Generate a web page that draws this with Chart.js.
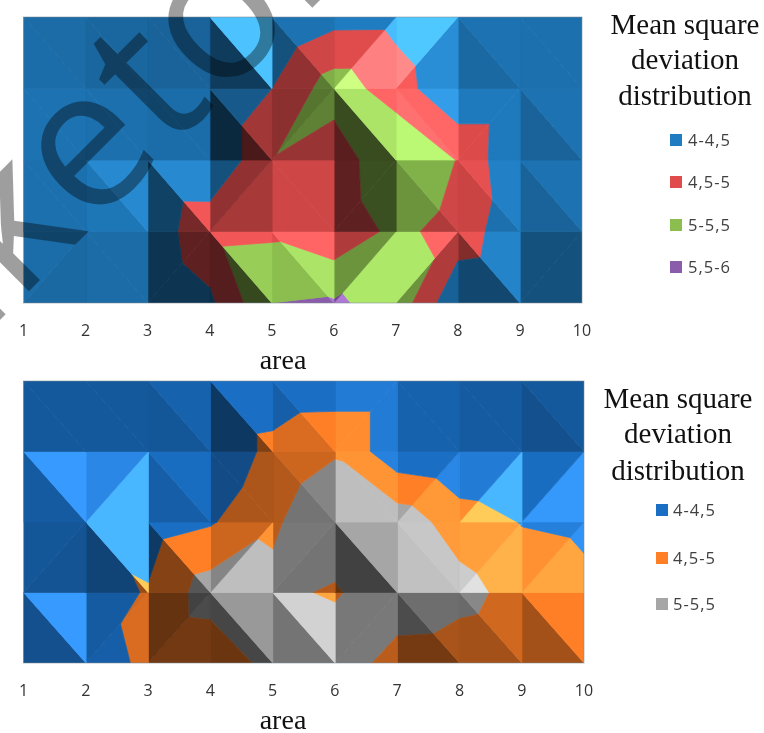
<!DOCTYPE html>
<html><head><meta charset="utf-8">
<style>
html,body{margin:0;padding:0;background:#fff;width:764px;height:733px;overflow:hidden}
canvas{position:absolute;left:0}
.t{position:absolute;font-family:"Liberation Serif",serif;color:#111;white-space:pre;transform:translate(-50%,-50%);line-height:1}
.l{position:absolute;font-family:"Open Sans",sans-serif;font-size:16.5px;letter-spacing:1px;color:#404040;white-space:pre;transform:translateY(-50%);line-height:1}
.s{position:absolute;width:12px;height:12px;transform:translateY(-50%)}
</style>
<script src="https://cdn.jsdelivr.net/npm/chart.js@4"></script>
</head><body>
<canvas id="c1" width="764" height="372" style="top:0"></canvas>
<canvas id="c2" width="764" height="361" style="top:372px"></canvas>
<script>
const areas=[1,2,3,4,5,6,7,8,9,10];
const titleLines=["Mean square","deviation","distribution"];
const axisName="area";

// surface heights, top row of the plot first
const topZ0=[3.95,3.95,3.95,3.9,3.97,4.33,4.34,3.94,3.95,3.95];
const topZ1=[4.0,4.0,4.0,3.99,4.5,5.26,4.76,4.03,4.03,3.9];
const topZ2=[4.0,4.0,4.0,3.99,4.98,4.67,5.48,4.98,4.0,4.0];
const topZ3=[4.0,4.0,4.15,4.87,4.91,4.63,5.13,4.8,4.12,3.95];
const topZ4=[4.0,4.0,4.03,4.4,5.5,5.56,5.34,4.07,3.98,3.9];
const botZ0=[4.0,4.0,4.0,4.06,4.14,4.16,4.16,4.0,3.95,3.9];
const botZ1=[4.0,4.05,4.1,4.06,4.65,4.95,4.16,4.01,3.92,4.0];
const botZ2=[4.1,4.39,4.26,4.45,4.92,5.42,5.31,4.75,4.48,4.42];
const botZ3=[4.0,4.24,4.54,5.26,5.13,4.93,5.48,5.2,4.78,4.6];
const botZ4=[3.9,4.45,4.52,4.59,5.2,5.45,4.7,4.66,4.55,4.7];

const topLabels=["4-4,5","4,5-5","5-5,5","5,5-6"];
const topBreaks=[4,4.5,5,5.5,6];
const topColors=[[31,124,192],[224,76,76],[139,190,78],[138,92,171]];
const botLabels=["4-4,5","4,5-5","5-5,5"];
const botBreaks=[3.5,4.5,5,6];
const botColors=[[26,111,196],[255,127,39],[166,166,166]];

// facet split of each cell: b = \  f = /
const topDiag=["bbbbbffbb","bbbbfbbfb","bbbfbfbbb","fbfbbffbf"];
const botDiag=["bbbbbfbbb","bfbbbbfff","fbbffbbff","bffbbfbbb"];
// facet lighting: A = upper facet, B = lower facet
const topShadeA=[[.87,.83,.8,1.28,.92,1,1.3,.92,.9],[.92,.9,.88,.72,.62,1.12,1.13,.98,.92],[.9,1.05,1.05,.65,.92,.42,.93,1.02,.92],[.88,.87,.42,1.05,1.12,.78,1.13,1.03,.65]];
const topShadeB=[[.88,.83,.8,.48,.65,1.25,1.07,.85,.9],[.92,.9,.88,.33,.68,.4,1.18,.98,.8],[.9,.95,.53,.75,.92,.42,.78,.9,.8],[.85,.87,.42,.38,1,1.13,.78,.58,.65]];
const botShadeA=[[.8,.8,.88,1,1,1.05,.88,.82,.8],[1.18,1.1,.98,.68,.8,1.08,1,1.05,.98],[.78,1.3,1,.8,.72,1,1.11,1.13,1.07],[1.18,.82,.4,.92,1.15,.72,.66,.82,1]];
const botShadeB=[[.8,.8,.78,.5,.85,1.05,.88,.82,.72],[.82,1.3,.85,.68,.7,1.08,1.1,1.3,1.17],[.76,.6,.52,1.08,.7,.39,1.09,1.2,1.15],[.72,.85,.45,.42,.7,.73,.46,.64,.64]];

function shade(c,k){
  const v=k<=1?c.map(a=>a*k):c.map(a=>a*k+130*(k-1));
  return 'rgb('+v.map(a=>Math.round(Math.min(255,a))).join(',')+')';
}
function clip(poly,level,keepAbove){
  const out=[];
  for(let i=0;i<poly.length;i++){
    const p=poly[i],q=poly[(i+1)%poly.length];
    const pIn=keepAbove?p.z>=level:p.z<=level, qIn=keepAbove?q.z>=level:q.z<=level;
    if(pIn) out.push(p);
    if(pIn!==qIn){
      const t=(level-p.z)/(q.z-p.z);
      out.push({x:p.x+t*(q.x-p.x),y:p.y+t*(q.y-p.y),z:level});
    }
  }
  return out;
}
function facets(z,diag,sa,sb,breaks,colors){
  const ds=[];
  const node=(c,r)=>({x:areas[c],y:r,z:z[r][c]});
  for(let r=0;r<4;r++)for(let c=0;c<9;c++){
    const tl=node(c,r),tr=node(c+1,r),bl=node(c,r+1),br=node(c+1,r+1);
    const tris=diag[r][c]==='b'
      ?[[tl,tr,br,sa[r][c]],[tl,bl,br,sb[r][c]]]
      :[[tl,tr,bl,sa[r][c]],[tr,br,bl,sb[r][c]]];
    for(const t of tris){
      colors.forEach((col,b)=>{
        const lo=b===0?-Infinity:breaks[b], hi=b===colors.length-1?Infinity:breaks[b+1];
        let p=[t[0],t[1],t[2]];
        if(lo!==-Infinity)p=clip(p,lo,true);
        if(p.length&&hi!==Infinity)p=clip(p,hi,false);
        if(p.length<3)return;
        const color=shade(col,t[3]);
        p.push(p[0]);
        ds.push({data:p.map(v=>({x:v.x,y:v.y})),showLine:true,fill:'shape',tension:0,
          backgroundColor:color,borderColor:color,borderWidth:.7,pointRadius:0,pointHoverRadius:0});
      });
    }
  }
  return ds;
}
const frame={id:'frame',afterDatasetsDraw(ch){
  const a=ch.chartArea,x=ch.ctx;x.save();x.strokeStyle='rgba(130,140,150,.55)';x.lineWidth=1;
  x.strokeRect(a.left,a.top,a.right-a.left,a.bottom-a.top);x.restore();}};
const watermark={id:'watermark',afterDraw(ch){
  const x=ch.ctx;x.save();x.translate(-60,380);x.rotate(-Math.PI/4);
  x.font='196px "Open Sans"';x.fillStyle='rgba(0,0,0,.38)';x.textBaseline='alphabetic';
  x.fillText('aketon',0,0);x.restore();}};
function make(id,z,diag,sa,sb,breaks,colors,pad,axisH,extra){
  new Chart(document.getElementById(id),{type:'scatter',
    data:{datasets:facets(z,diag,sa,sb,breaks,colors)},
    plugins:extra,
    options:{responsive:false,animation:false,events:[],
      layout:{padding:pad},
      plugins:{legend:{display:false},tooltip:{enabled:false}},
      scales:{
        x:{type:'linear',min:1,max:10,
          afterBuildTicks(s){s.ticks=areas.map(v=>({value:v}));},
          afterFit(s){s.height=axisH;},
          grid:{display:false,drawTicks:false},border:{display:false},
          ticks:{autoSkip:false,maxRotation:0,padding:19,color:'#333',font:{family:'"Open Sans"',size:16},callback:v=>String(v)}},
        y:{display:false,reverse:true,min:0,max:4}
      }}});
}
make('c1',[topZ0,topZ1,topZ2,topZ3,topZ4],topDiag,topShadeA,topShadeB,topBreaks,topColors,{left:17,right:182,top:17,bottom:0},69,[frame,watermark]);
make('c2',[botZ0,botZ1,botZ2,botZ3,botZ4],botDiag,botShadeA,botShadeB,botBreaks,botColors,{left:17,right:180,top:9,bottom:0},70,[frame]);

function text(cls,str,x,y,size){const d=document.createElement('div');d.className=cls;d.textContent=str;d.style.left=x+'px';d.style.top=y+'px';if(size)d.style.fontSize=size+'px';document.body.appendChild(d);}
function legend(labels,colors,sx,tx,ys){labels.forEach((s,i)=>{
  const b=document.createElement('div');b.className='s';b.style.left=sx+'px';b.style.top=ys[i]+'px';b.style.background='rgb('+colors[i].join(',')+')';document.body.appendChild(b);
  text('l',s,tx,ys[i]);});}
titleLines.forEach((s,i)=>{text('t',s,685,[24,59,95][i],29);text('t',s,678,[398,433,470][i],29);});
text('t',axisName,283,360,28);text('t',axisName,283,720,28);
legend(topLabels,topColors,670,688,[140,182,225,267]);
legend(botLabels,botColors,656,673,[510,558,604]);
</script>
</body></html>
